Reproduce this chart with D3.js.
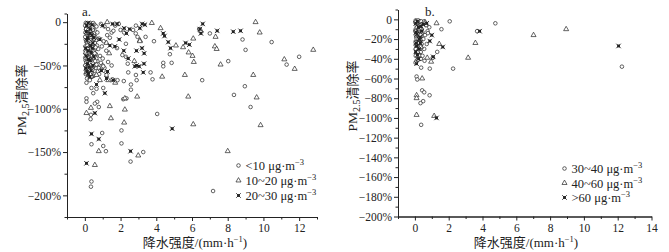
<!DOCTYPE html>
<html lang="zh">
<head>
<meta charset="UTF-8">
<title>PM2.5清除率与降水强度</title>
<script src="https://d3js.org/d3.v7.min.js"></script>
<style>
  body { margin: 0; background: #fff; }
  svg { display: block; background: #fff; font-family: "Liberation Serif", "Times New Roman", "Noto Sans CJK SC", serif; }
  .axis path, .axis line { stroke: #222; stroke-width: 1; }
  .axis text { font-size: 11.5px; fill: #222; font-family: "Liberation Serif", serif; }
  .lbl { font-size: 13px; fill: #222; }
</style>
</head>
<body>
<svg id="chart" width="669" height="252"></svg>
<script>
// ---- panel a: points [precip mm/h, removal %] ----
const aLow = [ // <10 ug/m3, circles
  [0.05,-1],[0.1,-3],[0.18,-2],[0.3,-1],[0.42,-2],[0.55,-3],[0.08,-6],[0.22,-5],[0.35,-7],[0.5,-6],
  [0.65,-5],[0.12,-9],[0.28,-10],[0.45,-9],[0.6,-11],[0.03,-12],[0.2,-13],[0.38,-14],[0.52,-13],[0.7,-12],
  [0.1,-16],[0.25,-17],[0.4,-18],[0.58,-17],[0.05,-20],[0.17,-21],[0.33,-20],[0.48,-22],[0.62,-21],[0.8,-19],
  [0.12,-24],[0.27,-25],[0.43,-26],[0.56,-24],[0.03,-28],[0.2,-29],[0.36,-28],[0.5,-30],[0.68,-27],[0.1,-32],
  [0.24,-33],[0.4,-34],[0.55,-32],[0.75,-31],[0.06,-36],[0.18,-37],[0.32,-38],[0.47,-36],[0.62,-37],[0.12,-40],
  [0.28,-41],[0.42,-42],[0.58,-40],[0.85,-39],[0.04,-44],[0.2,-45],[0.35,-46],[0.5,-44],[0.7,-45],[0.1,-48],
  [0.25,-49],[0.4,-50],[0.6,-48],[0.9,-47],[0.15,-52],[0.3,-53],[0.48,-54],[0.75,-52],[1.0,-50],[0.08,-56],
  [0.22,-57],[0.38,-58],[0.55,-56],[0.85,-55],[1.1,-53],[0.3,-61],[0.5,-62],
  [0.02,-4],[0.14,-1],[0.26,-3],[0.38,-4],[0.47,-1],[0.07,-8],[0.19,-9],[0.31,-11],[0.42,-6],[0.15,-12],
  [0.26,-13],[0.48,-16],[0.02,-17],[0.33,-17],[0.08,-22],[0.22,-22],[0.37,-23],[0.52,-19],[0.14,-27],[0.3,-26],
  [0.45,-29],[0.6,-29],[0.04,-33],[0.17,-31],[0.34,-31],[0.48,-33],[0.1,-38],[0.26,-36],[0.4,-39],[0.55,-36],
  [0.02,-41],[0.16,-42],[0.33,-43],[0.47,-41],[0.64,-42],[0.08,-46],[0.27,-47],[0.44,-47],[0.58,-45],[0.02,-50],
  [0.18,-51],[0.34,-50],[0.52,-51],[0.1,-54],[0.26,-55],[0.42,-55],[0.62,-53],[0.05,-60],[0.18,-61],[0.4,-63],
  [0.12,-65],[0.28,-67],
  [0.9,-2],[1.1,-5],[1.3,-8],[1.5,-12],[1.7,-4],[1.9,-2],[2.0,-9],[1.25,-15],[1.05,-22],[1.4,-18],
  [0.95,-28],[1.2,-33],[1.6,-10],[2.2,-12],[2.3,-25],[2.1,-38],[1.8,-30],[1.0,-42],[1.3,-46],[0.8,-60],
  [1.2,-58],[1.5,-50],[2.3,-40],[2.4,-48],[2.86,-4],[2.95,-17],[3.4,-17],[2.85,-13],[2.7,-9],
  [0.09,-70],[0.37,-76],[0.65,-77],[1.03,-76],[0.47,-82],[0.09,-88],[0.69,-92],[1.55,-66],[1.83,-67],[2.18,-68],
  [2.9,-67],[2.58,-72],[2.58,-78],[2.15,-89],[2.33,-88],[2.86,-61],[3.79,-66],[3.68,-58],[0.78,-53],[1.03,-51],
  [0.65,-49],[2.43,-58],[1.21,-61],[0.36,-63],
  [0.09,-92],[0.56,-94],[0.78,-98],[0.34,-107],[0.32,-112],[0.97,-128],[0.37,-141],[1.03,-143],[1.18,-149],
  [2.05,-125],[2.05,-140],[2.56,-161],[3.27,-150],[0.37,-184],[0.34,-190],[4.05,-106],
  [3.87,-22],[4.76,-37],[4.39,-47],[4.39,-51],[4.86,-47],[6.4,-8],[7.0,-13],[8.83,-20],[9.0,-32],[10.46,-23],
  [8.03,-45],[11.3,-49],[12.0,-40],[6.57,-67],[8.96,-74],[8.35,-84],[9.28,-98],[7.18,-195]
];
const aMid = [ // 10~20 ug/m3, triangles
  [3.75,-1],[4.24,-7],[3.08,-21],[5.1,-27],[5.5,-29],[6.07,-19],[5.81,-35],[6.03,-39],[6.1,-46],[4.33,-63],
  [5.6,-61],[5.79,-86],[2.93,-86],[6.07,-118],[2.99,-154],[7.32,-17],[7.6,-49],[7.28,-28],[2.77,-45],[8.0,-149],
  [9.56,0],[9.79,-12],[6.5,-10],[7.38,-31],[9.43,-61],[9.62,-87],[9.84,-119],[11.17,-43],[11.75,-54],[12.79,-32],
  [1.25,0],[1.36,-36],[1.21,-24],[3.08,-22],[1.31,-67],[1.7,-70],[2.24,-88],[1.4,-97],[0.34,-99],[0.09,-105],
  [1.46,-111],[2.2,-116],[2.24,-101],[0.78,-149],[0.56,-165],[0.84,-67],[0.65,-61],[0.1,-58],[0.3,-60],[0.05,-35],
  [0.35,-15],[0.2,-42]
];
const aHigh = [ // 20~30 ug/m3, stars
  [6.6,-2],[6.44,-8],[6.5,-13],[7.41,-10],[3.21,-2],[3.36,-3],[3.08,-7],[4.39,-13],[4.46,-16],[4.67,-23],
  [4.8,-30],[5.64,-24],[5.85,-26],[2.89,-33],[3.2,-30],[3.32,-36],[3.31,-48],[2.8,-51],[3.04,-51],[3.27,-58],
  [4.89,-123],[2.56,-149],[8.31,-11],[8.72,-10],
  [1.55,-2],[1.81,-2],[2.33,-13],[2.2,-7],[2.5,-8],[1.0,-4],[0.84,-20],[1.4,-27],[1.68,-28],[1.92,-20],
  [2.43,-42],[2.18,-33],[1.12,-82],[0.65,-72],[1.21,-65],[1.59,-67],[0.93,-56],[1.27,-57],[2.9,-50],[0.13,-57],
  [0.28,-63],[0.56,-105],[0.37,-129],[0.78,-135],[0.09,-163],
  [0.1,-4],[0.3,-8],[0.15,-18],[0.45,-24],[0.05,-30],[0.35,-35],[0.2,-43],[0.5,-40],[0.4,-15],[0.25,-52],
  [0.18,-1],[0.4,-3],[0.08,-11],[0.28,-13],[0.5,-18],[0.12,-21],[0.32,-27],[0.18,-33],[0.42,-30],[0.08,-39],
  [0.3,-44],[0.15,-48],[0.45,-50],[0.05,-53],[0.35,-56],[0.2,-60]
];

// ---- panel b ----
const bLow = [ // 30~40 ug/m3, circles
  [0.05,-1],[0.15,-3],[0.3,-2],[0.1,-6],[0.25,-7],[0.4,-5],[0.05,-10],[0.2,-11],[0.35,-9],[0.12,-14],
  [0.28,-15],[0.45,-13],[0.08,-18],[0.22,-19],[0.38,-17],[0.15,-22],[0.3,-23],[0.05,-26],[0.2,-27],[0.4,-25],
  [0.12,-30],[0.28,-31],[0.08,-34],[0.22,-35],[0.15,-38],[0.35,-40],[0.1,-42],
  [0.02,-3],[0.2,-1],[0.38,-2],[0.12,-8],[0.3,-6],[0.02,-12],[0.26,-11],[0.4,-10],[0.06,-16],[0.18,-15],
  [0.34,-16],[0.1,-20],[0.28,-21],[0.42,-20],[0.04,-23],[0.24,-24],[0.14,-28],[0.34,-27],[0.05,-30],[0.2,-32],
  [0.35,-33],[0.05,-37],[0.28,-37],[0.18,-41],[0.04,-44],
  [0.55,-2],[0.65,-6],[0.75,-12],[0.6,-16],[0.85,-8],[0.5,-20],[0.7,-25],[0.55,-30],[0.45,-37],
  [2.06,-2],[4.76,-4],[3.68,-12],[12.25,-48],[2.26,-50],[0.88,-50],[0.37,-49],[1.32,-33],[1.57,-10],[0.87,-77],
  [0.43,-72],[0.49,-83],[0.33,-85],[0.37,-107],[0.1,-58],[0.14,-61],[0.57,-42],[1.06,-39],[0.77,-14],[0.55,-74]
];
const bMid = [ // 40~60 ug/m3, triangles
  [1.28,-4],[1.44,-25],[3.58,-24],[3.15,-39],[7.02,-16],[8.95,-10],[0.43,-60],[0.1,-77],[0.1,-80],[0.1,-97],
  [1.14,-98],[0.96,-43],[0.73,-39],[0.2,-20],[0.35,-28],[0.3,-10],[0.15,-33],[0.6,-3]
];
const bHigh = [ // >60 ug/m3, stars
  [3.83,-12],[12.05,-27],[1.65,-28],[0.88,-22],[1.28,-100],[1.08,-38],[0.1,-45],[0.05,-4],[0.2,-8],[0.12,-15],
  [0.3,-18],[0.08,-24],[0.25,-30],[0.4,-12],[0.5,-5],[0.15,-36],[0.7,-4],[1.0,-16],
  [0.15,-2],[0.35,-7],[0.06,-13],[0.25,-20],[0.1,-27],[0.32,-24],[0.05,-33],[0.22,-40]
];

const aLegend = ["<10 μg·m", "10~20 μg·m", "20~30 μg·m"];
const bLegend = ["30~40 μg·m", "40~60 μg·m", ">60 μg·m"];

const svg = d3.select("#chart");
const ink = "#222";

function drawMarker(g, kind) {
  if (kind === "circle") {
    g.append("circle").attr("r", 1.8).attr("fill", "#fff").attr("stroke", ink).attr("stroke-width", 0.7);
  } else if (kind === "triangle") {
    g.append("path").attr("d", d3.symbol(d3.symbolTriangle, 11)())
      .attr("fill", "#fff").attr("stroke", ink).attr("stroke-width", 0.7);
  } else {
    g.append("path").attr("d", d3.symbol(d3.symbolSquare, 8)()).attr("fill", ink);
    g.append("path").attr("d", d3.symbol(d3.symbolTimes, 15)())
      .attr("fill", "none").attr("stroke", ink).attr("stroke-width", 0.9);
  }
}

const pctFmt = d => d === 0 ? "0" : (d < 0 ? "\u2212" : "") + Math.abs(d) + "%";

function drawPanel(p) {
  const x = d3.scaleLinear().domain(p.xDomain).range(p.xRange);
  const y = d3.scaleLinear().domain(p.yDomain).range(p.yRange);
  const bottom = p.yRange[1];
  const g = svg.append("g");

  // minor ticks
  g.append("g").attr("class", "axis")
    .attr("transform", `translate(${p.xRange[0]},0)`)
    .call(d3.axisLeft(y).tickValues(p.yMinor).tickSize(2.5).tickSizeOuter(0))
    .call(a => a.selectAll("text").remove());
  g.append("g").attr("class", "axis")
    .attr("transform", `translate(0,${bottom})`)
    .call(d3.axisBottom(x).tickValues(p.xMinor).tickSize(2.5).tickSizeOuter(0))
    .call(a => a.selectAll("text").remove());

  // major ticks
  g.append("g").attr("class", "axis")
    .attr("transform", `translate(${p.xRange[0]},0)`)
    .call(d3.axisLeft(y).tickValues(p.yMajor).tickSize(4).tickPadding(2).tickFormat(pctFmt).tickSizeOuter(0));
  g.append("g").attr("class", "axis")
    .attr("transform", `translate(0,${bottom})`)
    .call(d3.axisBottom(x).tickValues(p.xMajor).tickSize(4).tickPadding(3).tickFormat(d3.format("d")).tickSizeOuter(0));

  // points
  p.series.forEach(s => {
    s.data.forEach(d => {
      const m = g.append("g").attr("transform", `translate(${x(d[0])},${y(d[1])})`);
      drawMarker(m, s.kind);
    });
  });

  // legend
  p.series.forEach((s, i) => {
    const row = g.append("g").attr("transform", `translate(${p.legendX},${p.legendY[i]})`);
    drawMarker(row, s.kind);
    const t = row.append("text").attr("x", 7).attr("y", 4.5).attr("font-size", 12.5).attr("fill", ink);
    t.append("tspan").text(p.legend[i]);
    t.append("tspan").attr("dy", -5).attr("font-size", 8.5).text("\u22123");
  });

  // panel label
  g.append("text").attr("class", "lbl").attr("x", p.tagX).attr("y", 16).text(p.tag);

  // y label
  const yl = g.append("text").attr("class", "lbl").attr("text-anchor", "middle")
    .attr("transform", `translate(${p.yLabelX},${p.yLabelY}) rotate(-90)`);
  yl.append("tspan").attr("font-size", 13.5).text("PM");
  yl.append("tspan").attr("font-size", 10).attr("dy", 3).text("2.5");
  yl.append("tspan").attr("font-size", 13).attr("dy", -3).text("清除率");

  // x label
  const xl = g.append("text").attr("class", "lbl").attr("text-anchor", "middle")
    .attr("x", p.xLabelX).attr("y", 246.5);
  xl.append("tspan").text("降水强度/(mm·h");
  xl.append("tspan").attr("font-size", 8.5).attr("dy", -5).text("\u22121");
  xl.append("tspan").attr("dy", 5).text(")");
}

drawPanel({
  xDomain: [-1, 13], xRange: [67, 317],
  yDomain: [10, -225], yRange: [13.5, 217],
  xMajor: d3.range(0, 13, 2), xMinor: d3.range(-1, 14, 2),
  yMajor: [0, -50, -100, -150, -200], yMinor: [10, -25, -75, -125, -175, -225],
  series: [{ data: aLow, kind: "circle" }, { data: aMid, kind: "triangle" }, { data: aHigh, kind: "star" }],
  legend: aLegend, legendX: 238.5, legendY: [165.5, 180.5, 195.5],
  tag: "a.", tagX: 82, yLabelX: 26, yLabelY: 100, xLabelX: 195
});

drawPanel({
  xDomain: [-1, 14], xRange: [398, 651.5],
  yDomain: [10, -200], yRange: [9.5, 216.5],
  xMajor: d3.range(0, 15, 2), xMinor: d3.range(-1, 14, 2),
  yMajor: d3.range(0, -201, -20), yMinor: d3.range(10, -200, -20),
  series: [{ data: bLow, kind: "circle" }, { data: bMid, kind: "triangle" }, { data: bHigh, kind: "star" }],
  legend: bLegend, legendX: 564.5, legendY: [168.5, 183, 197.5],
  tag: "b.", tagX: 425, yLabelX: 357, yLabelY: 96, xLabelX: 526
});
</script>
</body>
</html>
